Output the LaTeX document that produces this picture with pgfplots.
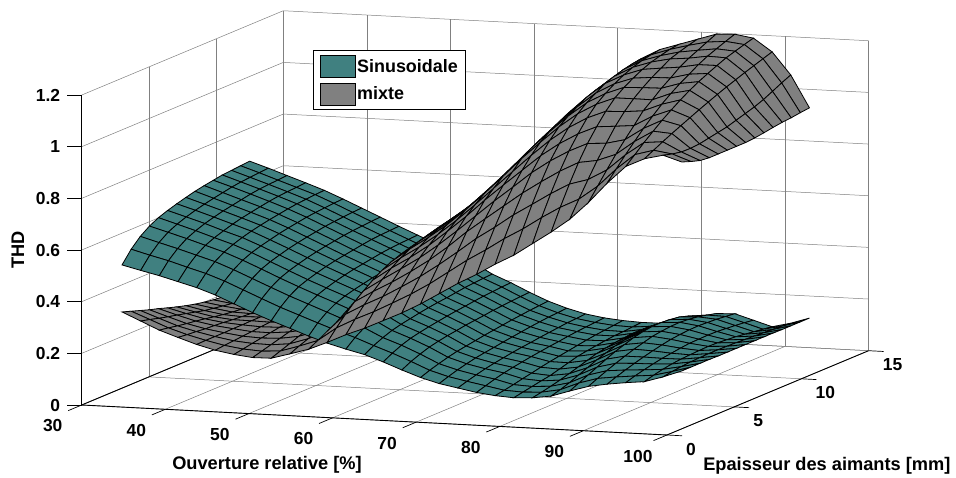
\documentclass[border=0pt]{standalone}
\usepackage{fontspec}
\setmainfont{Liberation Sans}
\usepackage{pgfplots}
\pgfplotsset{compat=1.18}
\definecolor{tealc}{RGB}{64,128,128}
\definecolor{greyc}{RGB}{128,128,128}
\pgfplotsset{
 tealsurf/.style={surf,forget plot,shader=faceted,z buffer=sort,faceted color=black,line width=0.8bp,
   colormap={tm}{rgb255=(64,128,128) rgb255=(64,128,128)},mesh/ordering=y varies,mesh/rows=15},
 greysurf/.style={surf,forget plot,shader=faceted,z buffer=sort,faceted color=black,line width=0.8bp,
   colormap={gm}{rgb255=(128,128,128) rgb255=(128,128,128)},mesh/ordering=y varies,mesh/rows=15},
}
\begin{document}
\begin{tikzpicture}
\useasboundingbox (0,0) rectangle (956bp,478bp);
\begin{axis}[
 at={(81.7bp,43bp)},anchor=south west,
 x={(8.361bp,-0.4286bp)},y={(13.44bp,5.62bp)},z={(0bp,258.3bp)},
 xmin=30,xmax=100,ymin=0,ymax=15,zmin=0,zmax=1.2,
 clip=false,
 xtick={30,40,50,60,70,80,90,100},ytick={0,5,10,15},ztick={0,0.2,0.4,0.6,0.8,1,1.2},
 xticklabels={30,40,50,60,70,80,90,100},yticklabels={0,5,10,15},zticklabels={0,0.2,0.4,0.6,0.8,1,1.2},
 grid=major,major grid style={draw=gray,line width=0.5bp},
 axis line style={draw=none},major tick length=0pt,
 every tick label/.append style={font=\bfseries\fontsize{17.5}{19}\selectfont},
 xticklabel style={anchor=center,xshift=-29bp,yshift=-21bp},
 yticklabel style={anchor=center,xshift=24bp,yshift=-14bp},
 zticklabel style={anchor=east,xshift=-18bp},
 xlabel={Ouverture relative [\%]},ylabel={Epaisseur des aimants [mm]},zlabel={THD},
 every axis x label/.style={at={(axis description cs:0.2355,-0.0707)},anchor=center,font=\bfseries\fontsize{18.3}{20}\selectfont},
 every axis y label/.style={at={(axis description cs:0.947,-0.0725)},anchor=center,font=\bfseries\fontsize{18.3}{20}\selectfont},
 every axis z label/.style={at={(axis description cs:-0.081,0.436)},anchor=center,rotate=90,font=\bfseries\fontsize{18.3}{20}\selectfont},
 legend style={at={(axis description cs:0.294,0.907)},anchor=north west,draw=black,line width=1bp,
   font=\bfseries\fontsize{18}{20}\selectfont,cells={anchor=west},inner xsep=6.5bp,inner ysep=4.5bp,row sep=5bp,
   nodes={inner xsep=1.5bp,inner ysep=1bp}},
 legend image code/.code={\draw[#1,draw=black,line width=0.6bp] (0bp,-11bp) rectangle (35bp,11bp);},
]
% axis lines and ticks
\draw[black,line width=0.9bp] (axis cs:30,0,0)--(axis cs:100,0,0);
\draw[black,line width=0.9bp] (axis cs:100,0,0)--(axis cs:100,15,0);
\draw[black,line width=0.9bp] (axis cs:30,0,0)--(axis cs:30,0,1.2);
\draw[black,line width=0.9bp] (axis cs:30,0,0)--(axis cs:30,15,0);
\draw[black,line width=0.7bp] (axis cs:30,0,0)--(axis cs:30,-1,0);
\draw[black,line width=0.7bp] (axis cs:40,0,0)--(axis cs:40,-1,0);
\draw[black,line width=0.7bp] (axis cs:50,0,0)--(axis cs:50,-1,0);
\draw[black,line width=0.7bp] (axis cs:60,0,0)--(axis cs:60,-1,0);
\draw[black,line width=0.7bp] (axis cs:70,0,0)--(axis cs:70,-1,0);
\draw[black,line width=0.7bp] (axis cs:80,0,0)--(axis cs:80,-1,0);
\draw[black,line width=0.7bp] (axis cs:90,0,0)--(axis cs:90,-1,0);
\draw[black,line width=0.7bp] (axis cs:100,0,0)--(axis cs:100,-1,0);
\draw[black,line width=0.7bp] (axis cs:100,0,0)--(axis cs:101.8,0,0);
\draw[black,line width=0.7bp] (axis cs:100,5,0)--(axis cs:101.8,5,0);
\draw[black,line width=0.7bp] (axis cs:100,10,0)--(axis cs:101.8,10,0);
\draw[black,line width=0.7bp] (axis cs:100,15,0)--(axis cs:101.8,15,0);
\draw[black,line width=0.7bp] (axis cs:30,0,0)--++(-15bp,0bp);
\draw[black,line width=0.7bp] (axis cs:30,0,0.2)--++(-15bp,0bp);
\draw[black,line width=0.7bp] (axis cs:30,0,0.4)--++(-15bp,0bp);
\draw[black,line width=0.7bp] (axis cs:30,0,0.6)--++(-15bp,0bp);
\draw[black,line width=0.7bp] (axis cs:30,0,0.8)--++(-15bp,0bp);
\draw[black,line width=0.7bp] (axis cs:30,0,1)--++(-15bp,0bp);
\draw[black,line width=0.7bp] (axis cs:30,0,1.2)--++(-15bp,0bp);
% mixte, part behind the sinusoidal surface
\addplot3[greysurf,mesh/cols=11] coordinates {
(30.00,3.00,.295)(30.00,3.68,.283)(30.00,4.36,.271)(30.00,5.04,.259)(30.00,5.71,.249)(30.00,6.39,.237)(30.00,7.07,.226)(30.00,7.75,.216)(30.00,8.43,.207)(30.00,9.11,.200)(30.00,9.79,.194)(30.00,10.46,.190)(30.00,11.14,.188)(30.00,11.82,.186)(30.00,12.50,.185)
(32.33,2.94,.265)(32.33,3.62,.256)(32.33,4.30,.246)(32.33,4.98,.237)(32.33,5.65,.229)(32.33,6.33,.220)(32.33,7.01,.211)(32.33,7.69,.202)(32.33,8.37,.196)(32.33,9.05,.190)(32.33,9.73,.185)(32.33,10.40,.182)(32.33,11.08,.180)(32.33,11.76,.179)(32.33,12.44,.178)
(34.67,2.87,.235)(34.67,3.55,.229)(34.67,4.23,.222)(34.67,4.91,.216)(34.67,5.58,.211)(34.67,6.26,.205)(34.67,6.94,.198)(34.67,7.62,.192)(34.67,8.30,.187)(34.67,8.98,.183)(34.67,9.66,.180)(34.67,10.33,.177)(34.67,11.01,.176)(34.67,11.69,.176)(34.67,12.37,.175)
(37.00,2.81,.212)(37.00,3.49,.208)(37.00,4.17,.205)(37.00,4.85,.201)(37.00,5.52,.199)(37.00,6.20,.196)(37.00,6.88,.192)(37.00,7.56,.189)(37.00,8.24,.186)(37.00,8.92,.184)(37.00,9.60,.183)(37.00,10.27,.181)(37.00,10.95,.181)(37.00,11.63,.180)(37.00,12.31,.180)
(39.33,2.75,.190)(39.33,3.43,.191)(39.33,4.11,.191)(39.33,4.79,.191)(39.33,5.46,.192)(39.33,6.14,.192)(39.33,6.82,.193)(39.33,7.50,.193)(39.33,8.18,.194)(39.33,8.86,.194)(39.33,9.54,.194)(39.33,10.21,.195)(39.33,10.89,.195)(39.33,11.57,.195)(39.33,12.25,.195)
(41.67,2.68,.173)(41.67,3.36,.177)(41.67,4.04,.180)(41.67,4.72,.183)(41.67,5.39,.186)(41.67,6.07,.190)(41.67,6.75,.193)(41.67,7.43,.197)(41.67,8.11,.200)(41.67,8.79,.203)(41.67,9.47,.207)(41.67,10.14,.210)(41.67,10.82,.214)(41.67,11.50,.217)(41.67,12.18,.220)
(44.00,2.62,.162)(44.00,3.30,.168)(44.00,3.98,.175)(44.00,4.66,.181)(44.00,5.33,.187)(44.00,6.01,.193)(44.00,6.69,.200)(44.00,7.37,.206)(44.00,8.05,.212)(44.00,8.73,.219)(44.00,9.41,.225)(44.00,10.08,.231)(44.00,10.76,.237)(44.00,11.44,.244)(44.00,12.12,.250)
(46.33,2.56,.155)(46.33,3.24,.165)(46.33,3.92,.175)(46.33,4.60,.185)(46.33,5.27,.195)(46.33,5.95,.205)(46.33,6.63,.215)(46.33,7.31,.225)(46.33,7.99,.235)(46.33,8.67,.245)(46.33,9.35,.255)(46.33,10.02,.265)(46.33,10.70,.275)(46.33,11.38,.285)(46.33,12.06,.295)
(48.67,2.49,.158)(48.67,3.17,.171)(48.67,3.85,.184)(48.67,4.53,.198)(48.67,5.20,.211)(48.67,5.88,.224)(48.67,6.56,.237)(48.67,7.24,.251)(48.67,7.92,.264)(48.67,8.60,.277)(48.67,9.28,.290)(48.67,9.95,.304)(48.67,10.63,.317)(48.67,11.31,.330)(48.67,11.99,.343)
(51.00,2.43,.180)(51.00,3.11,.195)(51.00,3.79,.209)(51.00,4.47,.224)(51.00,5.14,.239)(51.00,5.82,.253)(51.00,6.50,.268)(51.00,7.18,.283)(51.00,7.86,.297)(51.00,8.54,.312)(51.00,9.22,.326)(51.00,9.89,.341)(51.00,10.57,.356)(51.00,11.25,.370)(51.00,11.93,.385)
(53.33,2.37,.203)(53.33,3.05,.222)(53.33,3.73,.242)(53.33,4.41,.261)(53.33,5.08,.279)(53.33,5.76,.296)(53.33,6.44,.314)(53.33,7.12,.330)(53.33,7.80,.347)(53.33,8.48,.362)(53.33,9.16,.376)(53.33,9.83,.392)(53.33,10.51,.404)(53.33,11.19,.417)(53.33,11.87,.430)
};
% sinusoidale
\addplot3[tealsurf,mesh/cols=31] coordinates {
(30.00,3.00,.477)(30.00,3.68,.523)(30.00,4.36,.558)(30.00,5.04,.583)(30.00,5.71,.601)(30.00,6.39,.614)(30.00,7.07,.625)(30.00,7.75,.635)(30.00,8.43,.644)(30.00,9.11,.651)(30.00,9.79,.657)(30.00,10.46,.663)(30.00,11.14,.666)(30.00,11.82,.669)(30.00,12.50,.672)
(32.33,2.94,.461)(32.33,3.62,.505)(32.33,4.30,.539)(32.33,4.98,.564)(32.33,5.65,.581)(32.33,6.33,.594)(32.33,7.01,.605)(32.33,7.69,.614)(32.33,8.37,.622)(32.33,9.05,.629)(32.33,9.73,.636)(32.33,10.40,.641)(32.33,11.08,.644)(32.33,11.76,.647)(32.33,12.44,.650)
(34.67,2.87,.446)(34.67,3.55,.489)(34.67,4.23,.521)(34.67,4.91,.545)(34.67,5.58,.561)(34.67,6.26,.574)(34.67,6.94,.584)(34.67,7.62,.593)(34.67,8.30,.600)(34.67,8.98,.607)(34.67,9.66,.614)(34.67,10.33,.619)(34.67,11.01,.622)(34.67,11.69,.624)(34.67,12.37,.627)
(37.00,2.81,.428)(37.00,3.49,.469)(37.00,4.17,.501)(37.00,4.85,.524)(37.00,5.52,.539)(37.00,6.20,.551)(37.00,6.88,.562)(37.00,7.56,.571)(37.00,8.24,.578)(37.00,8.92,.585)(37.00,9.60,.591)(37.00,10.27,.596)(37.00,10.95,.599)(37.00,11.63,.601)(37.00,12.31,.604)
(39.33,2.75,.410)(39.33,3.43,.450)(39.33,4.11,.481)(39.33,4.79,.503)(39.33,5.46,.518)(39.33,6.14,.530)(39.33,6.82,.540)(39.33,7.50,.548)(39.33,8.18,.555)(39.33,8.86,.561)(39.33,9.54,.567)(39.33,10.21,.572)(39.33,10.89,.575)(39.33,11.57,.578)(39.33,12.25,.580)
(41.67,2.68,.387)(41.67,3.36,.426)(41.67,4.04,.455)(41.67,4.72,.477)(41.67,5.39,.492)(41.67,6.07,.503)(41.67,6.75,.512)(41.67,7.43,.521)(41.67,8.11,.528)(41.67,8.79,.534)(41.67,9.47,.540)(41.67,10.14,.544)(41.67,10.82,.547)(41.67,11.50,.550)(41.67,12.18,.552)
(44.00,2.62,.358)(44.00,3.30,.397)(44.00,3.98,.426)(44.00,4.66,.448)(44.00,5.33,.462)(44.00,6.01,.473)(44.00,6.69,.483)(44.00,7.37,.491)(44.00,8.05,.498)(44.00,8.73,.504)(44.00,9.41,.510)(44.00,10.08,.514)(44.00,10.76,.517)(44.00,11.44,.520)(44.00,12.12,.522)
(46.33,2.56,.329)(46.33,3.24,.368)(46.33,3.92,.397)(46.33,4.60,.418)(46.33,5.27,.432)(46.33,5.95,.443)(46.33,6.63,.453)(46.33,7.31,.461)(46.33,7.99,.468)(46.33,8.67,.474)(46.33,9.35,.480)(46.33,10.02,.484)(46.33,10.70,.487)(46.33,11.38,.490)(46.33,12.06,.492)
(48.67,2.49,.303)(48.67,3.17,.340)(48.67,3.85,.369)(48.67,4.53,.390)(48.67,5.20,.403)(48.67,5.88,.414)(48.67,6.56,.424)(48.67,7.24,.432)(48.67,7.92,.438)(48.67,8.60,.444)(48.67,9.28,.450)(48.67,9.95,.455)(48.67,10.63,.458)(48.67,11.31,.460)(48.67,11.99,.462)
(51.00,2.43,.279)(51.00,3.11,.315)(51.00,3.79,.343)(51.00,4.47,.363)(51.00,5.14,.376)(51.00,5.82,.387)(51.00,6.50,.396)(51.00,7.18,.404)(51.00,7.86,.410)(51.00,8.54,.416)(51.00,9.22,.422)(51.00,9.89,.426)(51.00,10.57,.429)(51.00,11.25,.431)(51.00,11.93,.433)
(53.33,2.37,.254)(53.33,3.05,.290)(53.33,3.73,.317)(53.33,4.41,.337)(53.33,5.08,.350)(53.33,5.76,.360)(53.33,6.44,.368)(53.33,7.12,.376)(53.33,7.80,.382)(53.33,8.48,.388)(53.33,9.16,.393)(53.33,9.83,.397)(53.33,10.51,.400)(53.33,11.19,.402)(53.33,11.87,.404)
(55.67,2.30,.232)(55.67,2.98,.266)(55.67,3.66,.291)(55.67,4.34,.310)(55.67,5.01,.323)(55.67,5.69,.333)(55.67,6.37,.341)(55.67,7.05,.348)(55.67,7.73,.354)(55.67,8.41,.359)(55.67,9.09,.365)(55.67,9.76,.368)(55.67,10.44,.371)(55.67,11.12,.373)(55.67,11.80,.375)
(58.00,2.24,.214)(58.00,2.92,.244)(58.00,3.60,.267)(58.00,4.28,.284)(58.00,4.95,.295)(58.00,5.63,.304)(58.00,6.31,.312)(58.00,6.99,.318)(58.00,7.67,.323)(58.00,8.35,.328)(58.00,9.03,.333)(58.00,9.70,.336)(58.00,10.38,.338)(58.00,11.06,.340)(58.00,11.74,.342)
(60.33,2.18,.198)(60.33,2.86,.218)(60.33,3.54,.234)(60.33,4.22,.247)(60.33,4.89,.256)(60.33,5.57,.263)(60.33,6.25,.270)(60.33,6.93,.276)(60.33,7.61,.281)(60.33,8.29,.285)(60.33,8.97,.290)(60.33,9.64,.295)(60.33,10.32,.298)(60.33,11.00,.301)(60.33,11.68,.303)
(62.67,2.11,.175)(62.67,2.79,.194)(62.67,3.47,.210)(62.67,4.15,.222)(62.67,4.82,.230)(62.67,5.50,.237)(62.67,6.18,.243)(62.67,6.86,.249)(62.67,7.54,.254)(62.67,8.22,.258)(62.67,8.90,.263)(62.67,9.57,.267)(62.67,10.25,.270)(62.67,10.93,.273)(62.67,11.61,.275)
(65.00,2.05,.149)(65.00,2.73,.167)(65.00,3.41,.181)(65.00,4.09,.193)(65.00,4.76,.201)(65.00,5.44,.208)(65.00,6.12,.213)(65.00,6.80,.219)(65.00,7.48,.223)(65.00,8.16,.227)(65.00,8.84,.232)(65.00,9.51,.235)(65.00,10.19,.238)(65.00,10.87,.241)(65.00,11.55,.243)
(67.33,1.99,.125)(67.33,2.67,.138)(67.33,3.35,.149)(67.33,4.03,.159)(67.33,4.70,.167)(67.33,5.38,.173)(67.33,6.06,.179)(67.33,6.74,.185)(67.33,7.42,.190)(67.33,8.10,.195)(67.33,8.78,.200)(67.33,9.46,.204)(67.33,10.13,.208)(67.33,10.81,.211)(67.33,11.49,.214)
(69.67,1.92,.107)(69.67,2.60,.119)(69.67,3.28,.130)(69.67,3.96,.139)(69.67,4.63,.147)(69.67,5.31,.153)(69.67,5.99,.158)(69.67,6.67,.164)(69.67,7.35,.169)(69.67,8.03,.174)(69.67,8.71,.179)(69.67,9.39,.183)(69.67,10.06,.187)(69.67,10.74,.189)(69.67,11.42,.192)
(72.00,1.86,.095)(72.00,2.54,.106)(72.00,3.22,.116)(72.00,3.90,.125)(72.00,4.57,.132)(72.00,5.25,.138)(72.00,5.93,.144)(72.00,6.61,.149)(72.00,7.29,.153)(72.00,7.97,.158)(72.00,8.65,.162)(72.00,9.33,.166)(72.00,10.00,.170)(72.00,10.68,.172)(72.00,11.36,.175)
(74.33,1.80,.083)(74.33,2.48,.094)(74.33,3.16,.105)(74.33,3.84,.114)(74.33,4.51,.121)(74.33,5.19,.127)(74.33,5.87,.133)(74.33,6.55,.138)(74.33,7.23,.143)(74.33,7.91,.147)(74.33,8.59,.152)(74.33,9.27,.156)(74.33,9.94,.159)(74.33,10.62,.162)(74.33,11.30,.165)
(76.67,1.73,.076)(76.67,2.41,.082)(76.67,3.09,.089)(76.67,3.77,.097)(76.67,4.44,.104)(76.67,5.12,.112)(76.67,5.80,.119)(76.67,6.48,.125)(76.67,7.16,.131)(76.67,7.84,.137)(76.67,8.52,.143)(76.67,9.20,.148)(76.67,9.87,.152)(76.67,10.55,.156)(76.67,11.23,.160)
(79.00,1.67,.073)(79.00,2.35,.080)(79.00,3.03,.087)(79.00,3.71,.094)(79.00,4.38,.100)(79.00,5.06,.110)(79.00,5.74,.120)(79.00,6.42,.130)(79.00,7.10,.136)(79.00,7.78,.141)(79.00,8.46,.146)(79.00,9.14,.150)(79.00,9.81,.152)(79.00,10.49,.155)(79.00,11.17,.158)
(81.33,1.61,.078)(81.33,2.29,.085)(81.33,2.97,.093)(81.33,3.65,.102)(81.33,4.32,.112)(81.33,5.00,.123)(81.33,5.68,.134)(81.33,6.36,.145)(81.33,7.04,.152)(81.33,7.72,.158)(81.33,8.40,.162)(81.33,9.08,.165)(81.33,9.75,.165)(81.33,10.43,.163)(81.33,11.11,.160)
(83.67,1.54,.090)(83.67,2.22,.100)(83.67,2.90,.112)(83.67,3.58,.127)(83.67,4.25,.141)(83.67,4.93,.156)(83.67,5.61,.168)(83.67,6.29,.180)(83.67,6.97,.188)(83.67,7.65,.194)(83.67,8.33,.199)(83.67,9.01,.199)(83.67,9.68,.195)(83.67,10.36,.187)(83.67,11.04,.170)
(86.00,1.48,.115)(86.00,2.16,.131)(86.00,2.84,.147)(86.00,3.52,.163)(86.00,4.19,.179)(86.00,4.87,.194)(86.00,5.55,.206)(86.00,6.23,.218)(86.00,6.91,.226)(86.00,7.59,.231)(86.00,8.27,.232)(86.00,8.95,.229)(86.00,9.62,.224)(86.00,10.30,.213)(86.00,10.98,.196)
(88.33,1.42,.138)(88.33,2.10,.154)(88.33,2.78,.169)(88.33,3.46,.183)(88.33,4.13,.196)(88.33,4.81,.208)(88.33,5.49,.218)(88.33,6.17,.228)(88.33,6.85,.233)(88.33,7.53,.237)(88.33,8.21,.238)(88.33,8.89,.235)(88.33,9.56,.230)(88.33,10.24,.222)(88.33,10.92,.213)
(90.67,1.35,.152)(90.67,2.03,.165)(90.67,2.71,.177)(90.67,3.39,.188)(90.67,4.06,.198)(90.67,4.74,.207)(90.67,5.42,.215)(90.67,6.10,.222)(90.67,6.78,.226)(90.67,7.46,.229)(90.67,8.14,.230)(90.67,8.82,.228)(90.67,9.49,.226)(90.67,10.17,.222)(90.67,10.85,.218)
(93.00,1.29,.163)(93.00,1.97,.174)(93.00,2.65,.183)(93.00,3.33,.191)(93.00,4.00,.198)(93.00,4.68,.203)(93.00,5.36,.208)(93.00,6.04,.212)(93.00,6.72,.213)(93.00,7.40,.214)(93.00,8.08,.213)(93.00,8.76,.210)(93.00,9.43,.207)(93.00,10.11,.203)(93.00,10.79,.198)
(95.33,1.23,.172)(95.33,1.91,.182)(95.33,2.59,.190)(95.33,3.27,.196)(95.33,3.94,.200)(95.33,4.62,.202)(95.33,5.30,.204)(95.33,5.98,.205)(95.33,6.66,.204)(95.33,7.34,.201)(95.33,8.02,.198)(95.33,8.70,.193)(95.33,9.37,.188)(95.33,10.05,.183)(95.33,10.73,.178)
(97.67,1.16,.196)(97.67,1.84,.202)(97.67,2.52,.206)(97.67,3.20,.209)(97.67,3.87,.211)(97.67,4.55,.212)(97.67,5.23,.212)(97.67,5.91,.211)(97.67,6.59,.210)(97.67,7.27,.208)(97.67,7.95,.206)(97.67,8.63,.204)(97.67,9.30,.202)(97.67,9.98,.200)(97.67,10.66,.197)
(100.00,1.10,.224)(100.00,1.78,.224)(100.00,2.46,.224)(100.00,3.14,.224)(100.00,3.81,.223)(100.00,4.49,.223)(100.00,5.17,.223)(100.00,5.85,.223)(100.00,6.53,.223)(100.00,7.21,.223)(100.00,7.89,.223)(100.00,8.57,.222)(100.00,9.24,.222)(100.00,9.92,.222)(100.00,10.60,.222)
};
% mixte, part in front of the sinusoidal surface
\addplot3[greysurf,mesh/cols=21] coordinates {
(53.33,2.37,.203)(53.33,3.05,.222)(53.33,3.73,.242)(53.33,4.41,.261)(53.33,5.08,.279)(53.33,5.76,.296)(53.33,6.44,.314)(53.33,7.12,.330)(53.33,7.80,.347)(53.33,8.48,.362)(53.33,9.16,.376)(53.33,9.83,.392)(53.33,10.51,.404)(53.33,11.19,.417)(53.33,11.87,.430)
(55.67,2.30,.235)(55.67,2.98,.276)(55.67,3.66,.314)(55.67,4.34,.348)(55.67,5.01,.376)(55.67,5.69,.402)(55.67,6.37,.425)(55.67,7.05,.443)(55.67,7.73,.456)(55.67,8.41,.467)(55.67,9.09,.476)(55.67,9.76,.484)(55.67,10.44,.489)(55.67,11.12,.492)(55.67,11.80,.495)
(58.00,2.24,.270)(58.00,2.92,.315)(58.00,3.60,.356)(58.00,4.28,.393)(58.00,4.95,.425)(58.00,5.63,.454)(58.00,6.31,.478)(58.00,6.99,.498)(58.00,7.67,.512)(58.00,8.35,.524)(58.00,9.03,.534)(58.00,9.70,.542)(58.00,10.38,.548)(58.00,11.06,.552)(58.00,11.74,.555)
(60.33,2.18,.300)(60.33,2.86,.349)(60.33,3.54,.393)(60.33,4.22,.434)(60.33,4.89,.471)(60.33,5.57,.500)(60.33,6.25,.526)(60.33,6.93,.548)(60.33,7.61,.564)(60.33,8.29,.576)(60.33,8.97,.588)(60.33,9.64,.596)(60.33,10.32,.602)(60.33,11.00,.606)(60.33,11.68,.610)
(62.67,2.11,.335)(62.67,2.79,.388)(62.67,3.47,.436)(62.67,4.15,.480)(62.67,4.82,.519)(62.67,5.50,.552)(62.67,6.18,.580)(62.67,6.86,.603)(62.67,7.54,.619)(62.67,8.22,.632)(62.67,8.90,.645)(62.67,9.57,.654)(62.67,10.25,.661)(62.67,10.93,.666)(62.67,11.61,.670)
(65.00,2.05,.370)(65.00,2.73,.428)(65.00,3.41,.481)(65.00,4.09,.530)(65.00,4.76,.574)(65.00,5.44,.612)(65.00,6.12,.640)(65.00,6.80,.666)(65.00,7.48,.684)(65.00,8.16,.699)(65.00,8.84,.712)(65.00,9.51,.723)(65.00,10.19,.730)(65.00,10.87,.736)(65.00,11.55,.740)
(67.33,1.99,.410)(67.33,2.67,.473)(67.33,3.35,.532)(67.33,4.03,.587)(67.33,4.70,.634)(67.33,5.38,.675)(67.33,6.06,.706)(67.33,6.74,.734)(67.33,7.42,.754)(67.33,8.10,.770)(67.33,8.78,.785)(67.33,9.46,.797)(67.33,10.13,.805)(67.33,10.81,.811)(67.33,11.49,.815)
(69.67,1.92,.455)(69.67,2.60,.524)(69.67,3.28,.587)(69.67,3.96,.650)(69.67,4.63,.697)(69.67,5.31,.743)(69.67,5.99,.775)(69.67,6.67,.806)(69.67,7.35,.828)(69.67,8.03,.845)(69.67,8.71,.862)(69.67,9.39,.874)(69.67,10.06,.882)(69.67,10.74,.889)(69.67,11.42,.894)
(72.00,1.86,.500)(72.00,2.54,.575)(72.00,3.22,.644)(72.00,3.90,.706)(72.00,4.57,.760)(72.00,5.25,.807)(72.00,5.93,.844)(72.00,6.61,.880)(72.00,7.29,.904)(72.00,7.97,.923)(72.00,8.65,.941)(72.00,9.33,.955)(72.00,10.00,.964)(72.00,10.68,.970)(72.00,11.36,.975)
(74.33,1.80,.540)(74.33,2.48,.620)(74.33,3.16,.693)(74.33,3.84,.761)(74.33,4.51,.819)(74.33,5.19,.869)(74.33,5.87,.912)(74.33,6.55,.948)(74.33,7.23,.974)(74.33,7.91,.995)(74.33,8.59,1.015)(74.33,9.27,1.028)(74.33,9.94,1.038)(74.33,10.62,1.045)(74.33,11.30,1.050)
(76.67,1.73,.585)(76.67,2.41,.669)(76.67,3.09,.746)(76.67,3.77,.816)(76.67,4.44,.880)(76.67,5.12,.931)(76.67,5.80,.976)(76.67,6.48,1.013)(76.67,7.16,1.040)(76.67,7.84,1.061)(76.67,8.52,1.083)(76.67,9.20,1.096)(76.67,9.87,1.106)(76.67,10.55,1.114)(76.67,11.23,1.120)
(79.00,1.67,.625)(79.00,2.35,.712)(79.00,3.03,.792)(79.00,3.71,.865)(79.00,4.38,.931)(79.00,5.06,.983)(79.00,5.74,1.030)(79.00,6.42,1.069)(79.00,7.10,1.097)(79.00,7.78,1.120)(79.00,8.46,1.142)(79.00,9.14,1.155)(79.00,9.81,1.166)(79.00,10.49,1.174)(79.00,11.17,1.180)
(81.33,1.61,.675)(81.33,2.29,.761)(81.33,2.97,.839)(81.33,3.65,.911)(81.33,4.32,.974)(81.33,5.00,1.026)(81.33,5.68,1.073)(81.33,6.36,1.111)(81.33,7.04,1.138)(81.33,7.72,1.161)(81.33,8.40,1.180)(81.33,9.08,1.195)(81.33,9.75,1.206)(81.33,10.43,1.214)(81.33,11.11,1.220)
(83.67,1.54,.725)(83.67,2.22,.806)(83.67,2.90,.881)(83.67,3.58,.950)(83.67,4.25,1.009)(83.67,4.93,1.059)(83.67,5.61,1.104)(83.67,6.29,1.141)(83.67,6.97,1.167)(83.67,7.65,1.188)(83.67,8.33,1.207)(83.67,9.01,1.221)(83.67,9.68,1.231)(83.67,10.36,1.240)(83.67,11.04,1.245)
(86.00,1.48,.780)(86.00,2.16,.843)(86.00,2.84,.904)(86.00,3.52,.963)(86.00,4.19,1.015)(86.00,4.87,1.066)(86.00,5.55,1.108)(86.00,6.23,1.143)(86.00,6.91,1.171)(86.00,7.59,1.196)(86.00,8.27,1.217)(86.00,8.95,1.238)(86.00,9.62,1.250)(86.00,10.30,1.261)(86.00,10.98,1.270)
(88.33,1.42,.850)(88.33,2.10,.898)(88.33,2.78,.946)(88.33,3.46,.992)(88.33,4.13,1.034)(88.33,4.81,1.074)(88.33,5.49,1.116)(88.33,6.17,1.144)(88.33,6.85,1.174)(88.33,7.53,1.199)(88.33,8.21,1.226)(88.33,8.89,1.246)(88.33,9.56,1.262)(88.33,10.24,1.279)(88.33,10.92,1.295)
(90.67,1.35,.930)(90.67,2.03,.970)(90.67,2.71,1.010)(90.67,3.39,1.047)(90.67,4.06,1.083)(90.67,4.74,1.116)(90.67,5.42,1.147)(90.67,6.10,1.174)(90.67,6.78,1.198)(90.67,7.46,1.219)(90.67,8.14,1.241)(90.67,8.82,1.259)(90.67,9.49,1.273)(90.67,10.17,1.287)(90.67,10.85,1.300)
(93.00,1.29,1.000)(93.00,1.97,1.031)(93.00,2.65,1.063)(93.00,3.33,1.092)(93.00,4.00,1.120)(93.00,4.68,1.145)(93.00,5.36,1.169)(93.00,6.04,1.191)(93.00,6.72,1.210)(93.00,7.40,1.227)(93.00,8.08,1.243)(93.00,8.76,1.258)(93.00,9.43,1.269)(93.00,10.11,1.280)(93.00,10.79,1.290)
(95.33,1.23,1.035)(95.33,1.91,1.053)(95.33,2.59,1.071)(95.33,3.27,1.088)(95.33,3.94,1.104)(95.33,4.62,1.120)(95.33,5.30,1.136)(95.33,5.98,1.151)(95.33,6.66,1.166)(95.33,7.34,1.180)(95.33,8.02,1.193)(95.33,8.70,1.206)(95.33,9.37,1.218)(95.33,10.05,1.230)(95.33,10.73,1.242)
(97.67,1.16,1.054)(97.67,1.84,1.044)(97.67,2.52,1.037)(97.67,3.20,1.036)(97.67,3.87,1.039)(97.67,4.55,1.046)(97.67,5.23,1.053)(97.67,5.91,1.060)(97.67,6.59,1.071)(97.67,7.27,1.082)(97.67,7.95,1.093)(97.67,8.63,1.107)(97.67,9.30,1.124)(97.67,9.98,1.142)(97.67,10.66,1.158)
(100.00,1.10,1.033)(100.00,1.78,1.020)(100.00,2.46,1.009)(100.00,3.14,1.005)(100.00,3.81,1.005)(100.00,4.49,1.005)(100.00,5.17,1.005)(100.00,5.85,1.005)(100.00,6.53,1.008)(100.00,7.21,1.013)(100.00,7.89,1.019)(100.00,8.57,1.024)(100.00,9.24,1.027)(100.00,9.92,1.032)(100.00,10.60,1.036)
};
\addlegendimage{fill=tealc}
\addlegendentry{Sinusoidale}
\addlegendimage{fill=greyc}
\addlegendentry{mixte}
\end{axis}
\end{tikzpicture}
\end{document}
